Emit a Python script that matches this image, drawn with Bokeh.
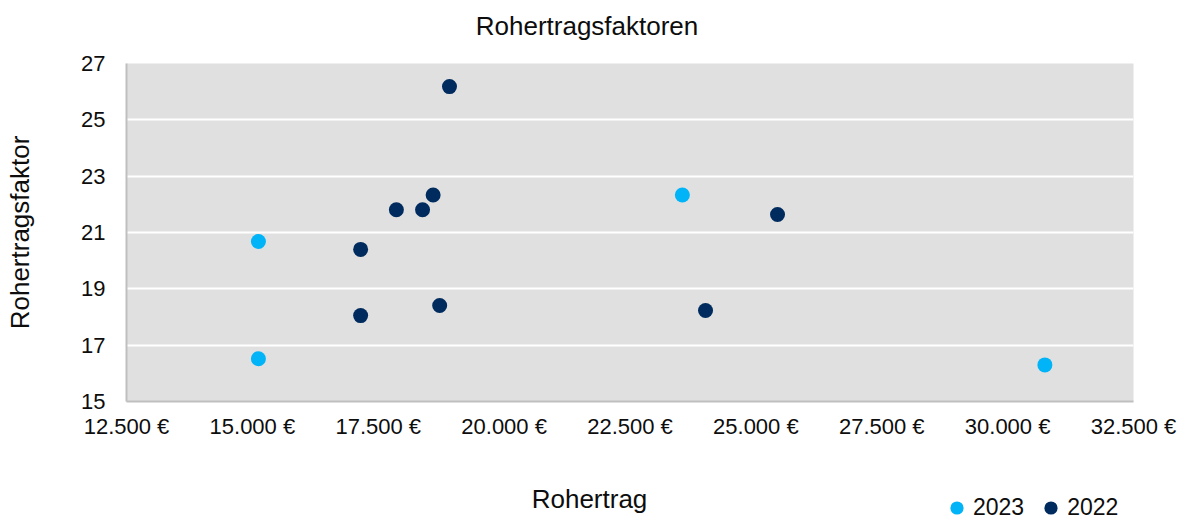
from bokeh.plotting import figure
from bokeh.layouts import column
from bokeh.models import (ColumnDataSource, FixedTicker, CustomJSTickFormatter, Legend,
                          LegendItem, Range1d, Label)
from bokeh.embed import file_html
from bokeh.resources import INLINE

# ---- data ----
title_text = "Rohertragsfaktoren"
x_label = "Rohertrag"
y_label = "Rohertragsfaktor"

series_names = ["2023", "2022"]
rohertrag_2023 = [15120, 15120, 23540, 30740]
faktor_2023 = [20.68, 16.52, 22.33, 16.30]
rohertrag_2022 = [18915, 17860, 18380, 18590, 17150, 17150, 18720, 25430, 24000]
faktor_2022 = [26.18, 21.81, 21.81, 22.33, 20.40, 18.05, 18.41, 21.64, 18.23]

x_ticks = [12500, 15000, 17500, 20000, 22500, 25000, 27500, 30000, 32500]
y_ticks = [15, 17, 19, 21, 23, 25, 27]

COL_2023 = "#00B4F7"
COL_2022 = "#002B5E"
FONT = "Liberation Sans"
TXT = "#0d0d0d"

W = 1186
H_HEAD, H_MAIN, H_FOOT = 45, 425, 50
FRAME_L, FRAME_R = 126, 1133


def strip(y0, h):
    """A strip without axes whose data coordinates equal page pixels."""
    s = figure(width=W, height=h, output_backend="svg", toolbar_location=None,
               x_range=Range1d(FRAME_L, FRAME_R), y_range=Range1d(y0 + h, y0),
               x_axis_type=None, y_axis_type=None, min_border=0)
    s.outline_line_color = None
    s.grid.visible = False
    s.background_fill_color = "white"
    s.border_fill_color = "white"
    return s


src23 = ColumnDataSource(dict(x=rohertrag_2023, y=faktor_2023))
src22 = ColumnDataSource(dict(x=rohertrag_2022, y=faktor_2022))

# ---- header with the chart title ----
head = strip(0, H_HEAD)
head.add_layout(Label(x=586.5, y=25, text=title_text, text_align="center", text_baseline="middle",
                      text_font=FONT, text_font_size="26px", text_color=TXT))

# ---- main chart ----
p = figure(width=W, height=H_MAIN, output_backend="svg", toolbar_location=None,
           x_range=Range1d(x_ticks[0], x_ticks[-1]), y_range=Range1d(y_ticks[0], y_ticks[-1]),
           min_border_left=FRAME_L, min_border_right=W - FRAME_R, min_border_top=18,
           min_border_bottom=69)
p.background_fill_color = "#E0E0E0"
p.border_fill_color = "white"
p.outline_line_color = None

p.scatter("x", "y", source=src23, size=15, marker="circle", fill_color=COL_2023, line_color=None)
p.scatter("x", "y", source=src22, size=15, marker="circle", fill_color=COL_2022, line_color=None)

p.xaxis.ticker = FixedTicker(ticks=x_ticks)
p.yaxis.ticker = FixedTicker(ticks=y_ticks)
p.xaxis.formatter = CustomJSTickFormatter(code="""
    const s = Math.round(tick).toString().replace(/\\B(?=(\\d{3})+(?!\\d))/g, '.');
    return s + ' \u20ac';
""")
for ax in (p.xaxis[0], p.yaxis[0]):
    ax.axis_line_color = "#BFBFBF"
    ax.axis_line_width = 2
    ax.major_tick_line_color = None
    ax.minor_tick_line_color = None
    ax.major_tick_out = 0
    ax.major_tick_in = 0
    ax.major_label_text_font = FONT
    ax.major_label_text_font_size = "22px"
    ax.major_label_text_color = TXT
p.xaxis.major_label_standoff = 12
p.yaxis.major_label_standoff = 21

p.yaxis.axis_label = y_label
p.yaxis.axis_label_text_font = FONT
p.yaxis.axis_label_text_font_size = "26px"
p.yaxis.axis_label_text_font_style = "normal"
p.yaxis.axis_label_text_color = TXT
p.yaxis.axis_label_standoff = 43

p.xgrid.grid_line_color = None
p.ygrid.grid_line_color = "white"
p.ygrid.grid_line_width = 2

# ---- footer with x-axis title and legend ----
foot = strip(H_HEAD + H_MAIN, H_FOOT)
foot.add_layout(Label(x=589, y=498, text=x_label, text_align="center", text_baseline="middle",
                      text_font=FONT, text_font_size="26px", text_color=TXT))

# same series, drawn in the footer only to supply legend swatches (their points fall outside this strip)
l23 = foot.scatter("x", "y", source=src23, size=15, marker="circle", fill_color=COL_2023, line_color=None)
l22 = foot.scatter("x", "y", source=src22, size=15, marker="circle", fill_color=COL_2022, line_color=None)
legend = Legend(items=[LegendItem(label=series_names[0], renderers=[l23]),
                       LegendItem(label=series_names[1], renderers=[l22])],
                orientation="horizontal", location=(814, -4),
                glyph_width=33, glyph_height=33, label_standoff=0, spacing=10,
                padding=0, margin=0, border_line_color=None, background_fill_alpha=0,
                label_text_font=FONT, label_text_font_size="23px", label_text_color=TXT)
foot.add_layout(legend, "center")

layout = column(head, p, foot, spacing=0)
html = file_html(layout, INLINE)
open("out.html", "w").write(html)
